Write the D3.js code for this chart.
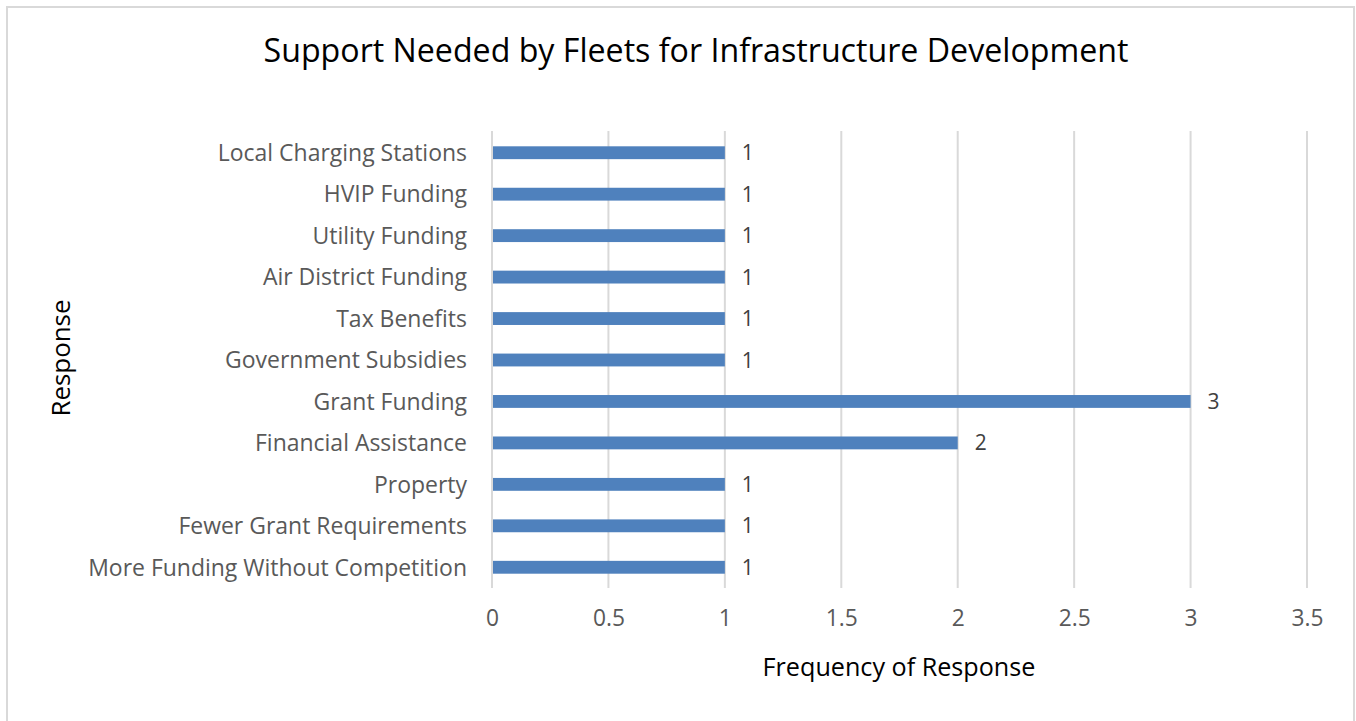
<!DOCTYPE html>
<html><head><meta charset="utf-8">
<script src="https://cdn.jsdelivr.net/npm/d3@7"></script>
<style>body{margin:0;background:#fff}svg{display:block}text{font-family:"Open Sans",Lato,sans-serif}</style>
</head><body>
<svg id="c" width="1356" height="721"></svg>
<script>
const categories = ["Local Charging Stations","HVIP Funding","Utility Funding","Air District Funding","Tax Benefits","Government Subsidies","Grant Funding","Financial Assistance","Property","Fewer Grant Requirements","More Funding Without Competition"];
const values = [1,1,1,1,1,1,3,2,1,1,1];
const xTicks = [0,0.5,1,1.5,2,2.5,3,3.5];
const title = "Support Needed by Fleets for Infrastructure Development";
const xTitle = "Frequency of Response";
const yTitle = "Response";

const svg = d3.select("#c");
svg.append("rect").attr("x",7).attr("y",7).attr("width",1347).attr("height",720)
  .attr("fill","#fff").attr("stroke","#d9d9d9").attr("stroke-width",2);

const x = d3.scaleLinear().domain([0,3.5]).range([492,1307]);
const y = d3.scaleBand().domain(categories).range([132,588]).paddingInner(0.69).paddingOuter(0.345);

// scale the font size of a selection so its widest text matches a target width
function fit(sel, base, target){
  sel.attr("font-size", base);
  let w = 0; sel.each(function(){ w = Math.max(w, this.getComputedTextLength()); });
  if (w > 0) sel.attr("font-size", base*target/w);
}

svg.append("g").selectAll("line").data(xTicks).join("line")
  .attr("x1",d=>x(d)).attr("x2",d=>x(d)).attr("y1",131).attr("y2",588)
  .attr("stroke","#d9d9d9").attr("stroke-width",2);

svg.append("g").selectAll("rect").data(categories).join("rect")
  .attr("x",x(0)+1).attr("y",d=>y(d)).attr("height",y.bandwidth())
  .attr("width",(d,i)=>x(values[i])-x(0)-1).attr("fill","#4f81bd");

const dl = svg.append("g").selectAll("text").data(categories).join("text")
  .attr("x",(d,i)=>x(values[i])+17).attr("y",d=>y(d)+y.bandwidth()/2)
  .attr("dy","0.36em").attr("fill","#404040")
  .text((d,i)=>values[i]);
dl.attr("font-size",21);

const gy = svg.append("g").attr("transform","translate(467,0)").call(d3.axisLeft(y).tickSize(0).tickPadding(0));
gy.select(".domain").remove();
gy.selectAll("text").attr("fill","#595959").attr("dy","0.36em").style("font-family",'"Open Sans",sans-serif');
fit(gy.selectAll("text"), 20, 379);

const gx = svg.append("g").attr("transform","translate(0,610)")
  .call(d3.axisBottom(x).tickValues(xTicks).tickSize(0).tickPadding(0).tickFormat(d=>String(d)));
gx.select(".domain").remove();
gx.selectAll("text").attr("fill","#595959").style("font-family",'"Open Sans",sans-serif');
fit(gx.selectAll("text"), 19, 32);

fit(svg.append("text").attr("x",696).attr("y",62).attr("text-anchor","middle")
  .attr("fill","#000").text(title), 26, 865);
fit(svg.append("text").attr("x",899).attr("y",676).attr("text-anchor","middle")
  .attr("fill","#000").text(xTitle), 20, 273);
fit(svg.append("text").attr("transform","translate(70,358) rotate(-90)").attr("text-anchor","middle")
  .attr("fill","#000").text(yTitle), 20, 117);
</script>
</body></html>
